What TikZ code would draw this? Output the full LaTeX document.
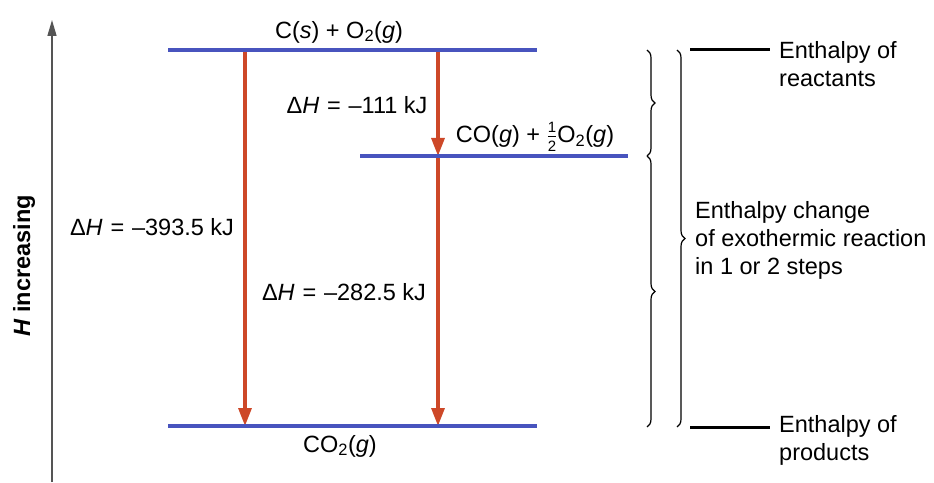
\documentclass[tikz,border=0pt]{standalone}
\usepackage{fontspec}
\setmainfont{Liberation Sans}
\usetikzlibrary{positioning,arrows.meta,decorations.pathreplacing}
\definecolor{levelblue}{RGB}{72,84,190}
\definecolor{arrowred}{RGB}{205,72,40}
\definecolor{axisgray}{RGB}{85,85,85}
\newcommand{\halfsym}{$\frac{\mbox{\fontsize{15}{15}\selectfont 1}}{\mbox{\fontsize{15}{15}\selectfont 2}}$}
\newcommand{\dH}{Δ\textit{H}\,\,=\,\,}

\begin{document}
\begin{tikzpicture}[x=1pt,y=1pt,
    level/.style={levelblue,line width=4pt},
    dh/.style={arrowred,line width=3.2pt,-{Triangle[length=18pt,width=13pt]}},
    lbl/.style={font=\fontsize{23.5}{28}\selectfont,inner sep=0pt},
    brc/.style={decorate,decoration={brace,amplitude=8pt},line width=1.2pt}]
        \useasboundingbox (0,0) rectangle (934,482);
        % axis
        \coordinate (hbot) at (52,0);
        \coordinate (htop) at (52,462);
        \draw[axisgray,line width=1.5pt,-{Triangle[length=16pt,width=9pt]}] (hbot) -- (htop);
        \node[lbl,rotate=90,font=\fontsize{23.5}{28}\selectfont\bfseries] (hlab) at (24,216) {\textit{H} increasing};
        % levels
        \coordinate (r1) at (168,432); \coordinate (r2) at (537,432);
        \coordinate (m1) at (360,326); \coordinate (m2) at (628,326);
        \coordinate (p1) at (168,56);  \coordinate (p2) at (537,56);
        \coordinate (a1) at (245,432); \coordinate (a2) at (245,56);
        \coordinate (b1) at (438,432); \coordinate (b2) at (438,326); \coordinate (b3) at (438,56);
        \draw[dh] (a1) -- (a2);
        \draw[dh] (b1) -- (b2);
        \draw[dh] (b2) -- (b3);
        \draw[level] (r1) -- (r2);
        \draw[level] (m1) -- (m2);
        \draw[level] (p1) -- (p2);
        \node[lbl] (reac) at (339,450) {C(\textit{s}) + O\textsubscript{2}(\textit{g})};
        \node[lbl] (inter) at (535,345) {CO(\textit{g}) + \halfsym O\textsubscript{2}(\textit{g})};
        \node[lbl] (prod) at (340,36) {CO\textsubscript{2}(\textit{g})};
        \node[lbl] (dha) at (357,377) {\dH--111 kJ};
        \node[lbl] (dhb) at (152,255) {\dH--393.5 kJ};
        \node[lbl] (dhc) at (344,190) {\dH--282.5 kJ};
        % braces
        \coordinate (s1) at (647,432); \coordinate (s2) at (647,326); \coordinate (s3) at (647,55);
        \coordinate (t1) at (677,432); \coordinate (t2) at (677,55);
        \draw[brc] (s1) -- (s2);
        \draw[brc] (s2) -- (s3);
        \draw[brc] (t1) -- (t2);
        \coordinate (k1) at (690,432); \coordinate (k2) at (770,432);
        \coordinate (k3) at (690,55);  \coordinate (k4) at (770,55);
        \draw[line width=3pt] (k1) -- (k2);
        \draw[line width=3pt] (k3) -- (k4);
        \node[lbl,anchor=west,align=left] (hreac) at (779,418) {Enthalpy of\\reactants};
        \node[lbl,anchor=west,align=left] (hprod) at (779,42) {Enthalpy of\\products};
        \node[lbl,anchor=west,align=left] (hchg) at (695,242) {Enthalpy change\\of exothermic reaction\\in 1 or 2 steps};
\end{tikzpicture}
\end{document}
